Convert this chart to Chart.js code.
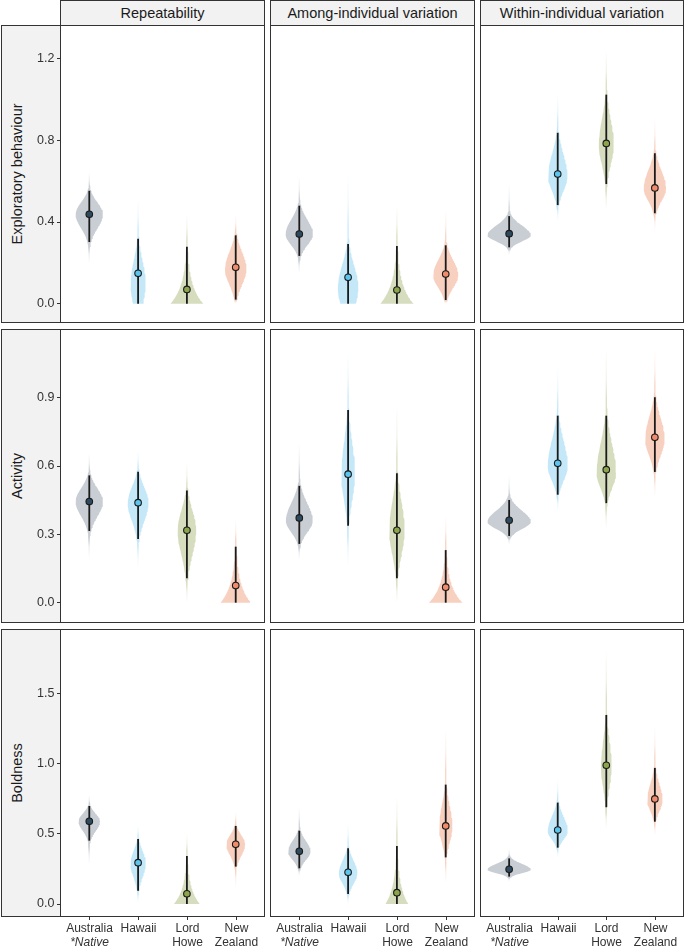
<!DOCTYPE html>
<html><head><meta charset="utf-8">
<script src="https://cdn.jsdelivr.net/npm/chart.js@4.4.1/dist/chart.umd.min.js"></script>
<style>
html,body{margin:0;padding:0;background:#fff;}
body{width:685px;height:947px;position:relative;overflow:hidden;font-family:"Liberation Sans",Arial,sans-serif;}
.strip{position:absolute;background:#f2f2f2;border:1px solid #333;box-sizing:border-box;color:#1a1a1a;font-size:14.5px;display:flex;align-items:center;justify-content:center;}
.panel{position:absolute;border:1px solid #333;box-sizing:border-box;background:#fff;}
canvas{position:absolute;}
.ytitle{position:absolute;transform:translate(-50%,-50%) rotate(-90deg);white-space:nowrap;font-size:14.5px;color:#1a1a1a;}
</style></head><body>
<script>
// ---------------- data ----------------
const categories = ['Australia', 'Hawaii', 'Lord Howe', 'New Zealand'];
const xTickLines = [['Australia', '*Native'], ['Hawaii'], ['Lord', 'Howe'], ['New', 'Zealand']];
const xTickItalic = [[false, true], [false], [false, false], [false, false]];
const traits = ['Exploratory behaviour', 'Activity', 'Boldness'];
const components = ['Repeatability', 'Among-individual variation', 'Within-individual variation'];
const yTicks = [[0, 0.4, 0.8, 1.2], [0, 0.3, 0.6, 0.9], [0, 0.5, 1.0, 1.5]];
const yLimits = [[-0.0945, 1.365], [-0.0891, 1.2015], [-0.0925, 1.958]];

// [trait][component][population]
const estimate = [
  [[0.438, 0.149, 0.070, 0.178], [0.341, 0.129, 0.067, 0.145], [0.343, 0.635, 0.785, 0.567]],
  [[0.444, 0.439, 0.318, 0.075], [0.372, 0.564, 0.318, 0.068], [0.362, 0.612, 0.584, 0.726]],
  [[0.589, 0.294, 0.073, 0.425], [0.375, 0.226, 0.081, 0.556], [0.247, 0.527, 0.988, 0.748]]
];
const ciLow = [
  [[0.302, 0, 0, 0.020], [0.234, 0, 0, 0.018], [0.276, 0.483, 0.586, 0.443]],
  [[0.315, 0.280, 0.107, 0], [0.258, 0.338, 0.107, 0], [0.293, 0.474, 0.437, 0.574]],
  [[0.451, 0.095, 0, 0.266], [0.254, 0.071, 0, 0.332], [0.195, 0.401, 0.689, 0.586]]
];
const ciHigh = [
  [[0.553, 0.318, 0.279, 0.335], [0.480, 0.292, 0.283, 0.286], [0.429, 0.837, 1.024, 0.737]],
  [[0.559, 0.575, 0.492, 0.246], [0.513, 0.846, 0.568, 0.231], [0.451, 0.821, 0.821, 0.902]],
  [[0.698, 0.463, 0.342, 0.556], [0.522, 0.397, 0.413, 0.850], [0.325, 0.722, 1.346, 0.969]]
];
const tailLow = [
  [[0.198, 0, 0, 0], [0.149, 0, 0, 0], [0.238, 0.400, 0.459, 0.361]],
  [[0.195, 0.151, 0, 0], [0.188, 0.158, 0, 0], [0.253, 0.400, 0.327, 0.466]],
  [[0.278, 0.007, 0, 0.123], [0.200, 0, 0, 0.147], [0.159, 0.332, 0.539, 0.491]]
];
const tailHigh = [
  [[0.646, 0.510, 0.440, 0.434], [0.622, 0.640, 0.475, 0.459], [0.581, 1.030, 1.242, 0.900]],
  [[0.656, 0.670, 0.612, 0.363], [0.700, 1.095, 0.860, 0.378], [0.561, 1.036, 1.110, 1.110]],
  [[0.776, 0.563, 0.500, 0.657], [0.693, 0.575, 0.764, 1.250], [0.397, 0.883, 1.810, 1.263]]
];
const densityMode = [
  [[0.438, 0.10, 0, 0.17], [0.341, 0.08, 0, 0.14], [0.335, 0.625, 0.78, 0.565]],
  [[0.444, 0.439, 0.318, 0], [0.36, 0.564, 0.318, 0], [0.355, 0.60, 0.57, 0.72]],
  [[0.589, 0.29, 0, 0.425], [0.375, 0.22, 0, 0.55], [0.245, 0.52, 0.98, 0.74]]
];
const maxHalfWidth = [
  [[0.28, 0.155, 0.336, 0.22], [0.28, 0.21, 0.34, 0.257], [0.446, 0.20, 0.154, 0.23]],
  [[0.28, 0.213, 0.19, 0.31], [0.275, 0.14, 0.158, 0.343], [0.446, 0.206, 0.20, 0.20]],
  [[0.22, 0.158, 0.267, 0.192], [0.23, 0.19, 0.233, 0.137], [0.446, 0.206, 0.11, 0.158]]
];

const fillRGB = ['201,206,212', '197,232,248', '214,221,190', '247,208,192'];
const pointColor = ['#2d4a5e', '#5bc5ee', '#8ca54c', '#f08b6c'];

// ---------------- layout ----------------
const COL = [{l: 60, r: 265}, {l: 270, r: 475}, {l: 480, r: 684}];
const ROW = [{t: 25, b: 323}, {t: 329, b: 623}, {t: 629, b: 917}];
const FONT = '"Liberation Sans", Arial, sans-serif';

function addDiv(cls, l, t, w, h, text) {
  const d = document.createElement('div');
  d.className = cls;
  Object.assign(d.style, {left: l + 'px', top: t + 'px', width: w + 'px', height: h + 'px'});
  if (text) d.textContent = text;
  document.body.appendChild(d);
  return d;
}

components.forEach((name, c) => addDiv('strip', COL[c].l, 0, COL[c].r - COL[c].l, 26, name));
traits.forEach((name, r) => {
  addDiv('strip', 1, ROW[r].t, 60, ROW[r].b - ROW[r].t, '');
  const t = document.createElement('div');
  t.className = 'ytitle';
  t.textContent = name;
  t.style.left = '17px';
  t.style.top = ((ROW[r].t + ROW[r].b) / 2) + 'px';
  document.body.appendChild(t);
  COL.forEach(col => addDiv('panel', col.l, ROW[r].t, col.r - col.l, ROW[r].b - ROW[r].t, ''));
});

// violin outline from read parameters (split density around the mode)
function violinOutline(r, c, p) {
  const m = densityMode[r][c][p], lo = ciLow[r][c][p], hi = ciHigh[r][c][p];
  const tl = tailLow[r][c][p], th = tailHigh[r][c][p], hw = maxHalfWidth[r][c][p];
  const expo = m <= 0.03;
  const sHi = expo ? (hi - m) / 3 : (hi - m) / 2;
  const sLo = lo > 0.001 && !expo ? (m - lo) / 2 : sHi;
  const w = y => {
    const s = y >= m ? sHi : sLo;
    const z = Math.abs(y - m) / s;
    const d = expo ? Math.exp(-z) : Math.exp(-0.5 * z * z);
    return Math.max(hw * d, 0.012);
  };
  const ys = [];
  const N = 90;
  for (let k = 0; k <= N; k++) ys.push(tl + (th - tl) * k / N);
  if (m > tl && m < th) { ys.push(m); ys.sort((a, b) => a - b); }
  const right = ys.map(y => ({x: p + w(y), y}));
  const left = ys.slice().reverse().map(y => ({x: p - w(y), y}));
  return right.concat(left);
}

function violinFill(r, c, p) {
  return (ctx) => {
    const chart = ctx.chart;
    const rgb = fillRGB[p];
    if (!chart.chartArea || !chart.scales.y) return 'rgba(' + rgb + ',1)';
    const y = chart.scales.y;
    const lo = ciLow[r][c][p], hi = ciHigh[r][c][p];
    const tl = tailLow[r][c][p], th = tailHigh[r][c][p];
    const y0 = y.getPixelForValue(tl), y1 = y.getPixelForValue(th);
    const g = chart.ctx.createLinearGradient(0, y0, 0, y1);
    const pos = v => Math.min(1, Math.max(0, (v - tl) / (th - tl)));
    const col = a => 'rgba(' + rgb + ',' + a + ')';
    if (lo - tl > 0.01) {
      g.addColorStop(0, col(0));
      g.addColorStop(pos(tl + 0.45 * (lo - tl)), col(0.35));
      g.addColorStop(pos(lo - 0.25 * (lo - tl)), col(1));
    } else {
      g.addColorStop(0, col(1));
    }
    g.addColorStop(pos(hi + 0.25 * (th - hi)), col(1));
    g.addColorStop(pos(hi + 0.55 * (th - hi)), col(0.35));
    g.addColorStop(1, col(0));
    return g;
  };
}

const xLabelPlugin = {
  id: 'xlabels',
  afterDraw(chart, args, opts) {
    if (!opts.show) return;
    const {ctx, chartArea} = chart;
    const x = chart.scales.x;
    ctx.save();
    ctx.strokeStyle = '#333';
    ctx.lineWidth = 1;
    ctx.fillStyle = '#333';
    ctx.textAlign = 'center';
    ctx.textBaseline = 'middle';
    xTickLines.forEach((lines, i) => {
      const px = Math.round(x.getPixelForValue(i)) + 0.5;
      ctx.beginPath();
      ctx.moveTo(px, chartArea.bottom - 1);
      ctx.lineTo(px, chartArea.bottom + 3);
      ctx.stroke();
      lines.forEach((txt, j) => {
        ctx.font = (xTickItalic[i][j] ? 'italic ' : '') + '12px ' + FONT;
        ctx.fillText(txt, px, chartArea.bottom + 12 + j * 13.5);
      });
    });
    ctx.restore();
  }
};

for (let r = 0; r < 3; r++) {
  for (let c = 0; c < 3; c++) {
    const left = c === 0 ? 0 : COL[c].l;
    const width = COL[c].r - left;
    const top = ROW[r].t;
    const height = ROW[r].b - top + (r === 2 ? 30 : 0);
    const cv = document.createElement('canvas');
    cv.width = width; cv.height = height;
    Object.assign(cv.style, {left: left + 'px', top: top + 'px', width: width + 'px', height: height + 'px'});
    document.body.appendChild(cv);

    const datasets = [];
    categories.forEach((cat, p) => {
      datasets.push({
        label: cat + ' density',
        data: violinOutline(r, c, p),
        showLine: true, fill: 'shape', tension: 0,
        borderWidth: 0, borderColor: 'rgba(0,0,0,0)',
        backgroundColor: violinFill(r, c, p),
        pointRadius: 0, order: 3
      });
    });
    categories.forEach((cat, p) => {
      datasets.push({
        label: cat + ' interval',
        data: [{x: p, y: ciLow[r][c][p]}, {x: p, y: ciHigh[r][c][p]}],
        showLine: true, fill: false,
        borderColor: '#1a1a1a', borderWidth: 1.8, borderCapStyle: 'butt',
        pointRadius: 0, order: 2
      });
    });
    datasets.push({
      label: 'estimate',
      data: categories.map((cat, p) => ({x: p, y: estimate[r][c][p]})),
      showLine: false,
      pointRadius: 3.3,
      pointBackgroundColor: pointColor,
      pointBorderColor: '#1a1a1a',
      pointBorderWidth: 1.1,
      order: 1
    });

    const showY = c === 0;
    const yScale = {
      type: 'linear', min: yLimits[r][0], max: yLimits[r][1],
      display: showY,
      afterBuildTicks: s => { s.ticks = yTicks[r].map(v => ({value: v})); },
      afterFit: s => { s.width = showY ? 60 : 0; s.paddingTop = 0; s.paddingBottom = 0; },
      ticks: {callback: v => Number(v).toFixed(1), color: '#333', padding: 2.5,
              font: {family: FONT, size: 12.5}},
      grid: {display: true, drawOnChartArea: false, drawTicks: true, tickLength: 3,
             color: '#333', lineWidth: 1},
      border: {display: false}
    };

    new Chart(cv, {
      type: 'scatter',
      data: {datasets},
      plugins: [xLabelPlugin],
      options: {
        responsive: false, animation: false, events: [],
        layout: {autoPadding: false, padding: {left: 0, right: 0, top: 0, bottom: r === 2 ? 30 : 0}},
        scales: {
          x: {type: 'linear', min: -0.6, max: 3.6, display: false},
          y: yScale
        },
        plugins: {legend: {display: false}, tooltip: {enabled: false}, xlabels: {show: r === 2}}
      }
    });
  }
}
</script>
</body></html>
